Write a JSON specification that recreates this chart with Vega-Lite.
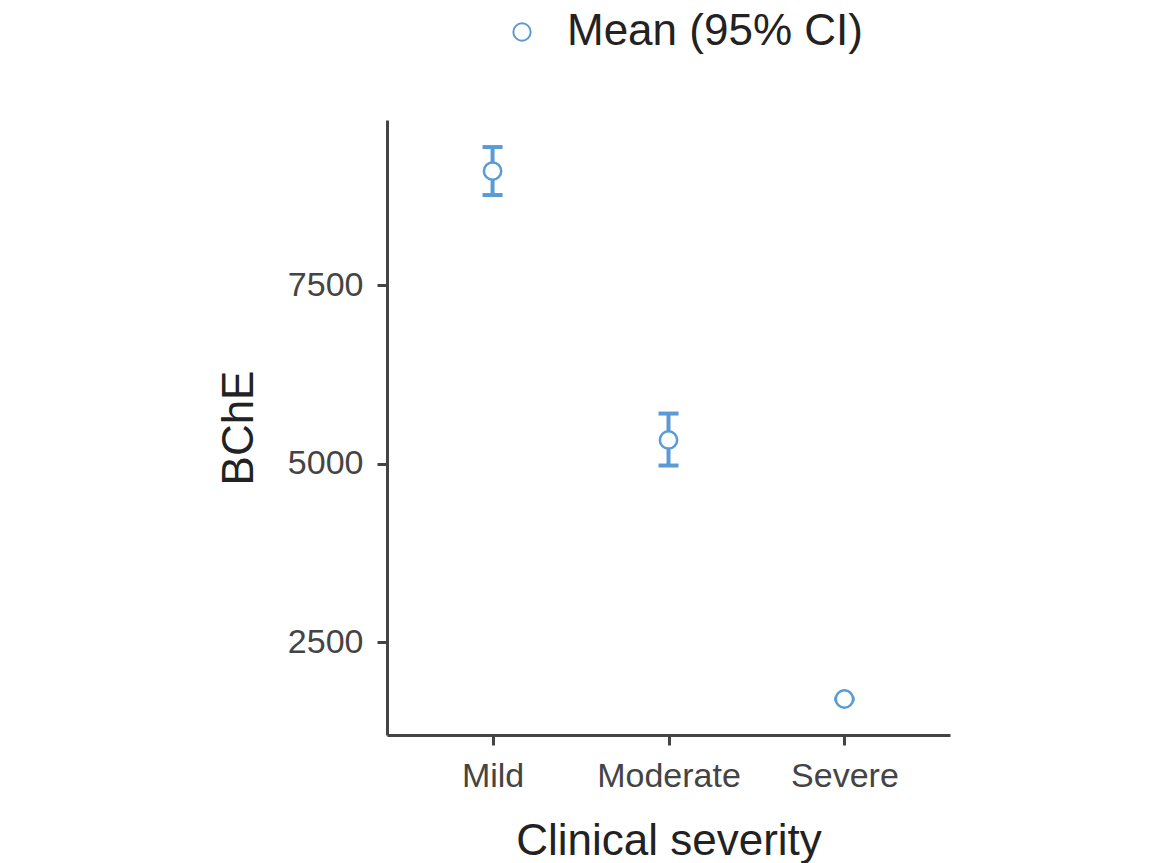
{
  "$schema": "https://vega.github.io/schema/vega-lite/v6.json",
  "autosize": {"type": "none"},
  "width": 563,
  "height": 615,
  "padding": {"left": 387, "top": 120, "right": 204, "bottom": 128},
  "background": "white",
  "config": {
    "view": {"stroke": null},
    "font": "Liberation Sans",
    "axis": {"grid": false, "domainColor": "#444444", "domainWidth": 3, "tickColor": "#444444", "tickWidth": 3, "tickSize": 10, "labelColor": "#444444", "titleColor": "#222222", "labelFontSize": 34, "titleFontSize": 44, "titleFontWeight": "normal", "labelFont": "Liberation Sans", "titleFont": "Liberation Sans"}
  },
  "data": {
    "values": [
      {"severity": "Mild", "mean": 9096, "low": 8760, "high": 9432, "series": "Mean (95% CI)"},
      {"severity": "Moderate", "mean": 5330, "low": 4972, "high": 5700, "series": "Mean (95% CI)"},
      {"severity": "Severe", "mean": 1702, "low": 1692, "high": 1712, "series": "Mean (95% CI)"}
    ]
  },
  "encoding": {
    "x": {"field": "severity", "type": "nominal", "sort": ["Mild", "Moderate", "Severe"],
      "scale": {"type": "point", "padding": 0.6},
      "axis": {"title": "Clinical severity", "labelAngle": 0, "labelPadding": 14, "titlePadding": 26}}
  },
  "layer": [
    {
      "mark": {"type": "rule", "color": "#5a9bd5", "strokeWidth": 4},
      "encoding": {
        "y": {"field": "low", "type": "quantitative", "scale": {"domain": [1198, 9811], "nice": false, "zero": false},
          "axis": {"title": "BChE", "values": [2500, 5000, 7500], "format": "d", "labelPadding": 14, "titlePadding": 26}},
        "y2": {"field": "high"}
      }
    },
    {
      "mark": {"type": "tick", "color": "#5a9bd5", "thickness": 4, "size": 20, "orient": "horizontal", "opacity": 1},
      "encoding": {"y": {"field": "low", "type": "quantitative"}}
    },
    {
      "mark": {"type": "tick", "color": "#5a9bd5", "thickness": 4, "size": 20, "orient": "horizontal", "opacity": 1},
      "encoding": {"y": {"field": "high", "type": "quantitative"}}
    },
    {
      "mark": {"type": "point", "shape": "circle", "filled": false, "fill": "white", "fillOpacity": 1, "strokeWidth": 2.5, "size": 300, "opacity": 1},
      "encoding": {
        "y": {"field": "mean", "type": "quantitative"},
        "color": {"field": "series", "type": "nominal", "scale": {"range": ["#5a9bd5"]},
          "legend": {"title": null, "orient": "none", "legendX": 113, "legendY": -110, "labelFontSize": 44, "labelLimit": 500, "labelColor": "#222222", "symbolSize": 300, "symbolStrokeWidth": 2, "symbolFillColor": "white", "symbolOpacity": 1, "labelOffset": 23, "labelFont": "Liberation Sans"}}
      }
    }
  ]
}
